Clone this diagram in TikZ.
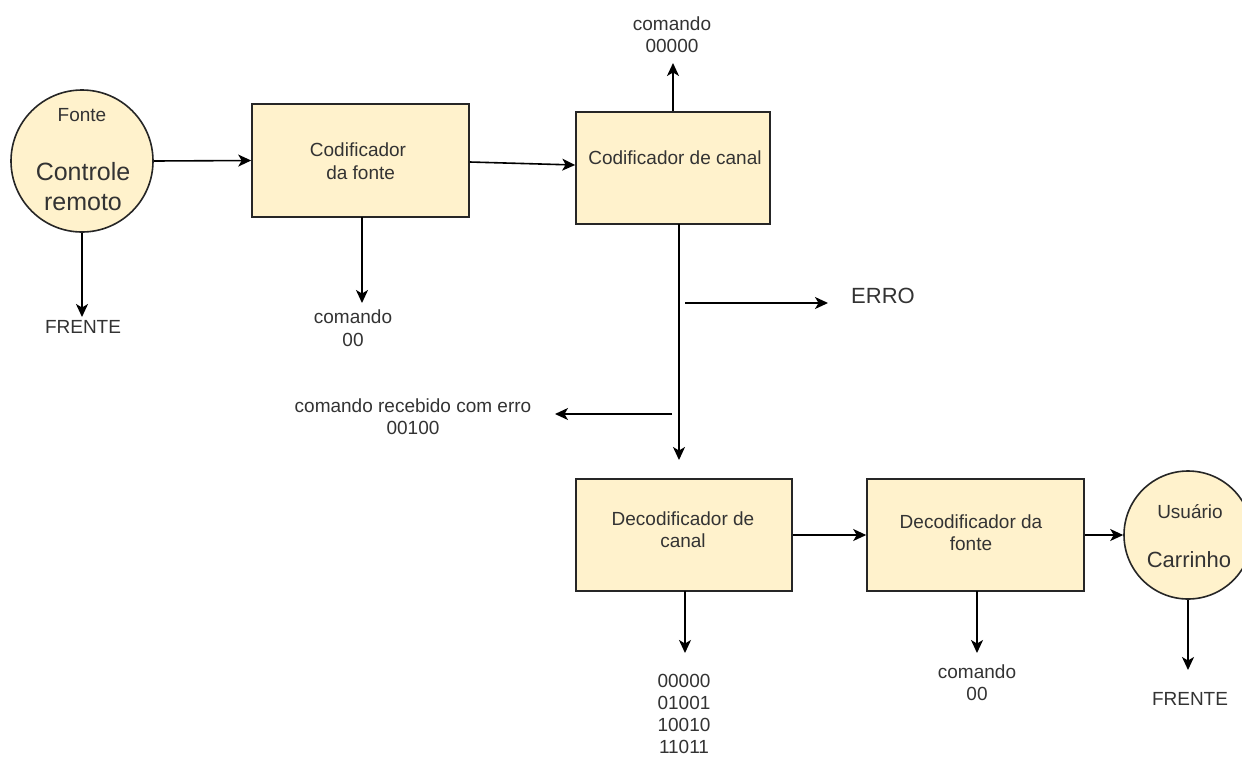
\documentclass[tikz,border=0pt]{standalone}
\usepackage{fontspec}
\setmainfont{Liberation Sans}
\usetikzlibrary{arrows.meta}
\definecolor{boxfill}{HTML}{FFF2CC}
\definecolor{txt}{HTML}{333333}
\begin{document}
\begin{tikzpicture}[x=1pt,y=-1pt,
  blk/.style={draw=black!85,line width=1.6pt,fill=boxfill,rectangle,inner sep=0pt},
  circ/.style={draw=black!85,line width=1.6pt,fill=boxfill,circle,inner sep=0pt},
  lbl/.style={text=txt,font=\fontsize{19}{22.5}\selectfont,align=center,inner sep=0pt},
  arr/.style={line width=1.6pt,-{Stealth[length=13pt,width=12pt,inset=3.5pt]}}]
\useasboundingbox (0,0) rectangle (1242,756);
\fill[white] (0,0) rectangle (1242,756);
% shapes
\node[circ,minimum size=142pt] (src) at (82,161) {};
\node[blk,minimum width=217pt,minimum height=113pt] (b1) at (360.5,160.5) {};
\node[blk,minimum width=194pt,minimum height=112pt] (b2) at (673,168) {};
\node[blk,minimum width=216pt,minimum height=112pt] (b3) at (684,535) {};
\node[blk,minimum width=217pt,minimum height=112pt] (b4) at (975.5,535) {};
\node[circ,minimum size=128pt] (usr) at (1188,535) {};
% texts inside
\node[lbl] (tfonte) at (82,115) {Fonte};
\node[lbl,font=\fontsize{25}{30}\selectfont] (tcr) at (83,187) {Controle\\remoto};
\node[lbl] (tb1) at (358,161) {Codificador\\\ da fonte};
\node[lbl] (tb2) at (675,158) {Codificador de canal};
\node[lbl] (tb3) at (683,529.5) {Decodificador de\\canal};
\node[lbl] (tb4) at (971,532.5) {Decodificador da\\fonte};
\node[lbl] (tusr) at (1190,512) {Usuário};
\node[lbl,font=\fontsize{22}{26}\selectfont] (tcar) at (1189,560) {Carrinho};
% outside labels
\node[lbl] (f1) at (83,327) {FRENTE};
\node[lbl] (c00a) at (353,328) {comando\\00};
\node[lbl] (c5) at (672,34.5) {comando\\00000};
\node[lbl,font=\fontsize{22}{26}\selectfont] (erro) at (883,296) {ERRO};
\node[lbl] (crec) at (413,416.5) {comando recebido com erro\\00100};
\node[lbl,font=\fontsize{19}{22}\selectfont] (codes) at (684,714) {00000\\01001\\10010\\11011};
\node[lbl] (c00b) at (977,682.5) {comando\\00};
\node[lbl] (f2) at (1190,699) {FRENTE};
% free-end coordinates
\coordinate (pSrcD) at (82,317);
\coordinate (pB1S) at (362,217);
\coordinate (pB1D) at (362,303);
\coordinate (pUp) at (673,63);
\coordinate (pB2S) at (679,224);
\coordinate (pDown) at (679,460);
\coordinate (pE0) at (685,303);
\coordinate (pE1) at (828,303);
\coordinate (pL0) at (672,414);
\coordinate (pL1) at (555,414);
\coordinate (pB3S) at (685,591);
\coordinate (pB3D) at (685,653);
\coordinate (pB4S) at (977,591);
\coordinate (pB4D) at (977,653);
\coordinate (pUsrD) at (1188,670);
% connectors
\draw[arr] (src.east) -- (b1.west);
\draw[arr] (src.south) -- (pSrcD);
\draw[arr] ([yshift=-1.5pt]b1.east) -- ([yshift=3pt]b2.west);
\draw[arr] (pB1S) -- (pB1D);
\draw[arr] (b2.north) -- (pUp);
\draw[arr] (pB2S) -- (pDown);
\draw[arr] (pE0) -- (pE1);
\draw[arr] (pL0) -- (pL1);
\draw[arr] (pB3S) -- (pB3D);
\draw[arr] (b3.east) -- (b4.west);
\draw[arr] (pB4S) -- (pB4D);
\draw[arr] (b4.east) -- (usr.west);
\draw[arr] (usr.south) -- (pUsrD);
\end{tikzpicture}
\end{document}
